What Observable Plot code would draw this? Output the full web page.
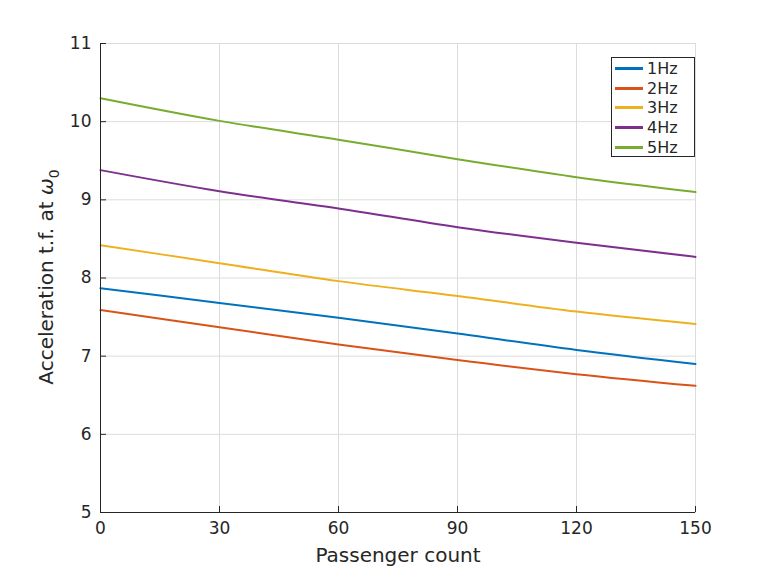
<!DOCTYPE html>
<html>
<head>
<meta charset="utf-8">
<script src="https://cdn.jsdelivr.net/npm/d3@7"></script>
<script src="https://cdn.jsdelivr.net/npm/@observablehq/plot@0.6"></script>
<style>
  html, body { margin: 0; padding: 0; background: #fff; }
  #wrap { position: relative; width: 768px; height: 576px; font-family: "DejaVu Sans", sans-serif; }
  #legend { position: absolute; left: 611px; top: 57px; width: 84px; height: 100px; border: 1px solid #262626; background: #fff; padding: 1px 0 0 0; box-sizing: border-box; }
  .item { display: flex; align-items: center; height: 19.6px; font-size: 16px; color: #262626; }
  .swatch { width: 28px; height: 3px; margin-left: 3px; margin-right: 4px; }
</style>
</head>
<body>
<div id="wrap"><div id="chart"></div><div id="legend"></div></div>
<script>
const passengers = [0, 30, 60, 90, 120, 150];
const seriesNames = ["1Hz", "2Hz", "3Hz", "4Hz", "5Hz"];
const s1Hz = [7.87, 7.68, 7.49, 7.29, 7.08, 6.90];
const s2Hz = [7.59, 7.37, 7.15, 6.95, 6.77, 6.62];
const s3Hz = [8.42, 8.19, 7.96, 7.77, 7.57, 7.41];
const s4Hz = [9.38, 9.11, 8.89, 8.65, 8.45, 8.27];
const s5Hz = [10.30, 10.01, 9.77, 9.52, 9.29, 9.10];
const xTicks = [0, 30, 60, 90, 120, 150];
const yTicks = [5, 6, 7, 8, 9, 10, 11];
const colors = ["#0072BD", "#D95319", "#EDB120", "#7E2F8E", "#77AC30"];

const allSeries = [s1Hz, s2Hz, s3Hz, s4Hz, s5Hz];
const rows = [];
allSeries.forEach((vals, i) => {
  vals.forEach((v, j) => rows.push({ series: seriesNames[i], x: passengers[j], y: v }));
});

const ink = "#262626";
const fmt = d3.format("d");
const plot = Plot.plot({
  width: 768,
  height: 576,
  marginLeft: 100,
  marginRight: 73,
  marginTop: 43,
  marginBottom: 64,
  style: { fontFamily: "DejaVu Sans, sans-serif", fontSize: "16px", color: ink, background: "#fff" },
  x: { domain: [0, 150], ticks: xTicks, label: null },
  y: { domain: [5, 11], ticks: yTicks, label: null },
  color: { domain: seriesNames, range: colors },
  marks: [
    Plot.gridX(xTicks, { stroke: "#dcdcdc", strokeOpacity: 1 }),
    Plot.gridY(yTicks, { stroke: "#dcdcdc", strokeOpacity: 1 }),
    Plot.frame({ stroke: "#dcdcdc" }),
    Plot.line(rows, { x: "x", y: "y", z: "series", stroke: "series", strokeWidth: 2, curve: "monotone-x" }),
    Plot.ruleX([0], { stroke: ink, strokeWidth: 1 }),
    Plot.ruleY([5], { stroke: ink, strokeWidth: 1 }),
    // inward tick marks
    Plot.axisX(xTicks, { tickSize: 6, dy: -6, tickFormat: () => "", stroke: ink, label: null }),
    Plot.axisY(yTicks, { tickSize: 6, dx: 6, tickFormat: () => "", stroke: ink, label: null }),
    // tick labels
    Plot.axisX(xTicks, { tickSize: 0, tickPadding: 9, tickFormat: fmt, fill: ink, fontSize: 17, label: null }),
    Plot.axisY(yTicks, { tickSize: 0, tickPadding: 9, tickFormat: fmt, fill: ink, fontSize: 17, label: null })
  ]
});
document.getElementById("chart").appendChild(plot);

const svg = d3.select(plot);
svg.append("text")
  .attr("x", 398).attr("y", 562)
  .attr("text-anchor", "middle")
  .attr("fill", ink)
  .style("font-size", "20px")
  .text("Passenger count");

const yl = svg.append("text")
  .attr("transform", "translate(53,277) rotate(-90)")
  .attr("text-anchor", "middle")
  .attr("fill", ink)
  .style("font-size", "20px");
yl.append("tspan").text("Acceleration t.f. at ");
yl.append("tspan").style("font-style", "italic").text("ω");
yl.append("tspan").attr("dy", 6).style("font-size", "14px").text("0");

const legend = d3.select("#legend");
seriesNames.forEach((name, i) => {
  const it = legend.append("div").attr("class", "item");
  it.append("div").attr("class", "swatch").style("background", colors[i]);
  it.append("span").text(name);
});
</script>
</body>
</html>
